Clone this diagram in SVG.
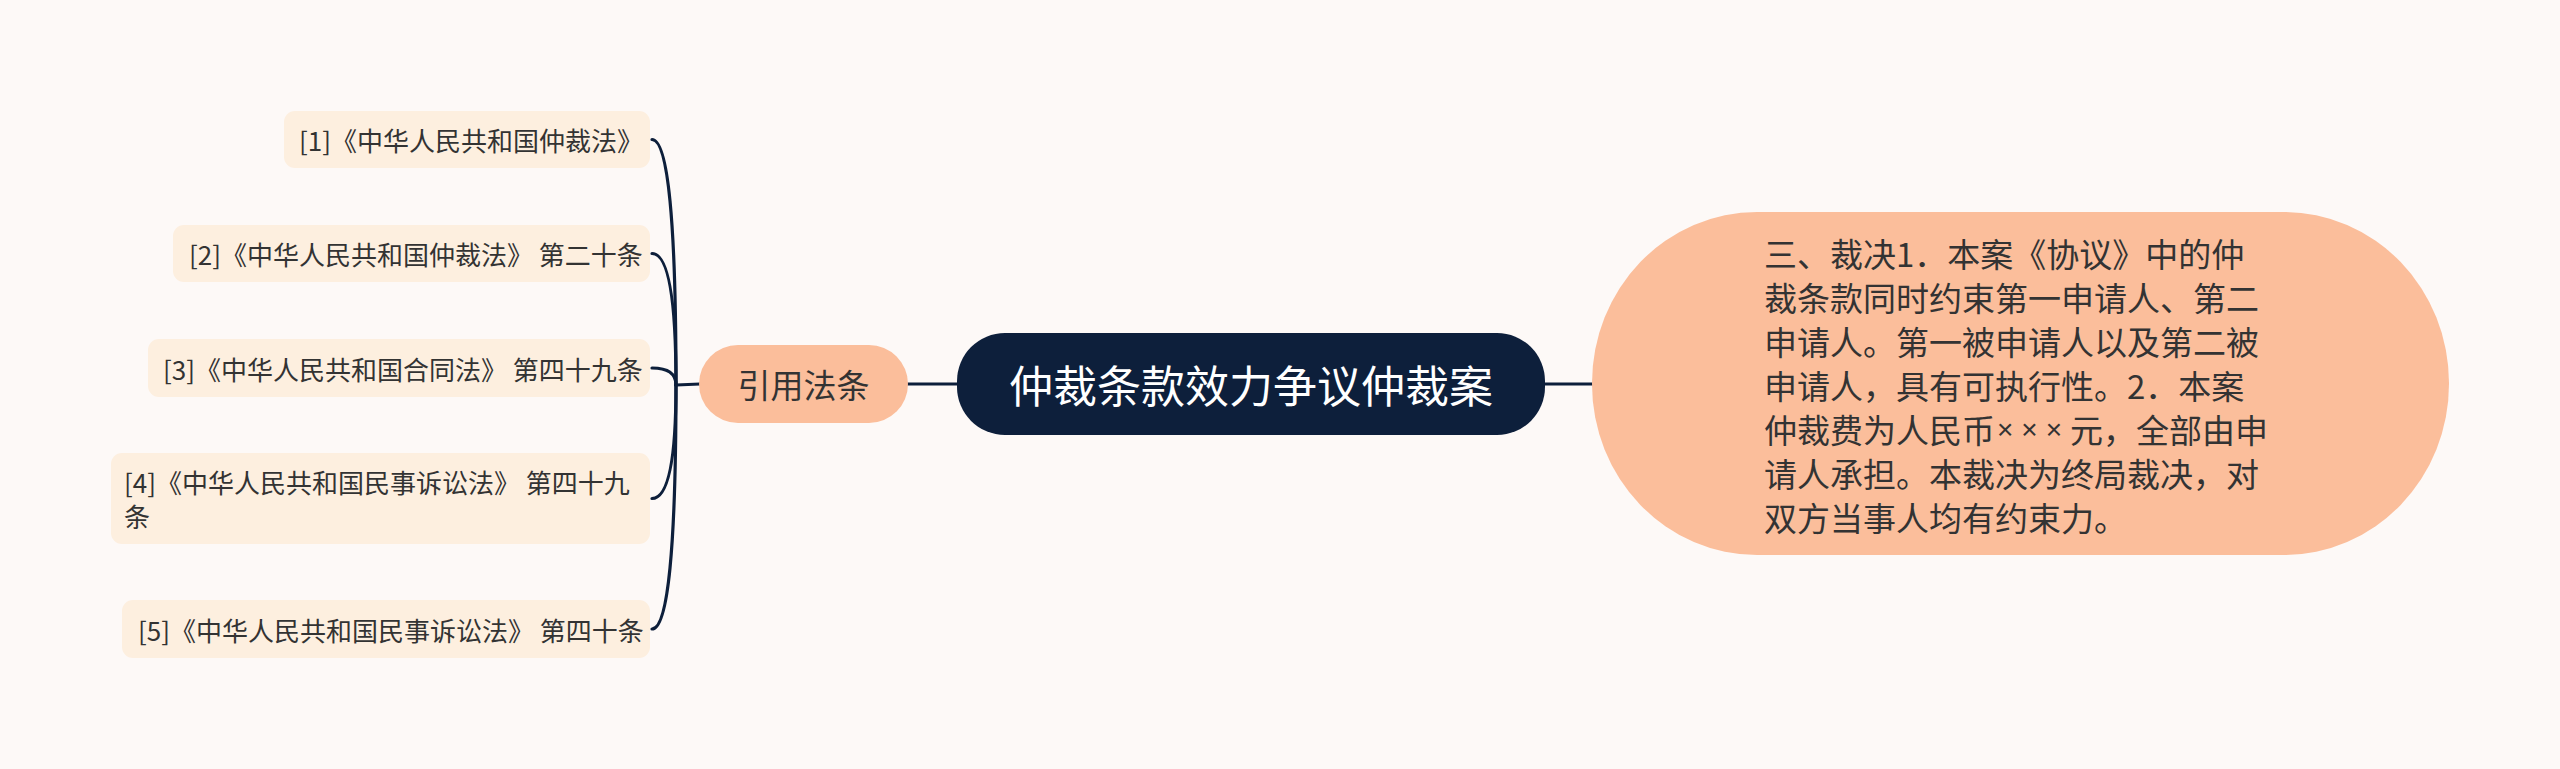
<svg xmlns="http://www.w3.org/2000/svg" width="2560" height="769" viewBox="0 0 2560 769">
<style>
.leaf rect{fill:#fdefdf;}
.leaf text{font-family:"Noto Sans CJK SC","Microsoft YaHei",sans-serif;font-size:26px;fill:#333333;dominant-baseline:central;}
.sub{fill:#fbbe9b;}
.subt{font-family:"Noto Sans CJK SC",sans-serif;font-size:33px;fill:#333333;dominant-baseline:central;}
.conn path{fill:none;stroke:#0d1f3b;stroke-width:3.2;stroke-linecap:round;}
</style>
<rect x="0" y="0" width="2560" height="769" fill="#fdf9f7"/>
<g class="conn" id="connectors">
<path d="M652 139.5 Q676 139.5 676 385"/>
<path d="M652 253.5 Q676 253.5 676 385"/>
<path d="M652 368 Q676 368 676 385"/>
<path d="M652 498.5 Q676 498.5 676 385"/>
<path d="M652 629 Q676 629 676 385"/>
<path d="M676 385 L700 384"/>
<path d="M908 384 L958 384"/>
<path d="M1544 384 L1594 384"/>
</g>
<g id="root">
<rect x="957" y="333" width="588" height="102" rx="48" ry="48" fill="#0d1f3b"/>
<text x="1251" y="384" text-anchor="middle" font-family="Noto Sans CJK SC, sans-serif" font-size="44" fill="#ffffff" dominant-baseline="central">仲裁条款效力争议仲裁案</text>
</g>
<g id="cite">
<rect class="sub" x="699" y="345" width="209" height="78" rx="39" ry="39"/>
<text class="subt" x="803.5" y="384" text-anchor="middle">引用法条</text>
</g>
<g id="ruling">
<rect class="sub" x="1592" y="212" width="857" height="343" rx="165" ry="171"/>
<text class="subt" x="1764">
<tspan x="1764" y="253">三、裁决1．本案《协议》中的仲</tspan>
<tspan x="1764" y="297">裁条款同时约束第一申请人、第二</tspan>
<tspan x="1764" y="341">申请人。第一被申请人以及第二被</tspan>
<tspan x="1764" y="385">申请人，具有可执行性。2．本案</tspan>
<tspan x="1764" y="429">仲裁费为人民币<tspan font-family="Liberation Sans, sans-serif" font-size="28" dx="2" letter-spacing="8">×××</tspan>元，全部由申</tspan>
<tspan x="1764" y="473">请人承担。本裁决为终局裁决，对</tspan>
<tspan x="1764" y="517">双方当事人均有约束力。</tspan>
</text>
</g>
<g id="leaf1" class="leaf">
<rect x="284" y="111" width="366" height="57" rx="11"/>
<text x="299" y="139.5">[1]《中华人民共和国仲裁法》</text>
</g>
<g id="leaf2" class="leaf">
<rect x="173" y="225" width="477" height="57" rx="11"/>
<text x="189" y="253.5">[2]《中华人民共和国仲裁法》 第二十条</text>
</g>
<g id="leaf3" class="leaf">
<rect x="148" y="339" width="502" height="58" rx="11"/>
<text x="163" y="368">[3]《中华人民共和国合同法》 第四十九条</text>
</g>
<g id="leaf4" class="leaf">
<rect x="111" y="453" width="539" height="91" rx="11"/>
<text x="124" y="481.5">[4]《中华人民共和国民事诉讼法》 第四十九</text>
<text x="124" y="515.5">条</text>
</g>
<g id="leaf5" class="leaf">
<rect x="122" y="600" width="528" height="58" rx="11"/>
<text x="138" y="629">[5]《中华人民共和国民事诉讼法》 第四十条</text>
</g>
</svg>
